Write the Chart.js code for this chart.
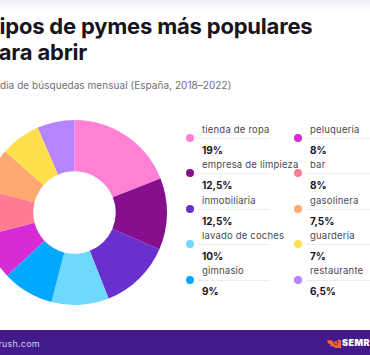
<!DOCTYPE html>
<html>
<head>
<meta charset="utf-8">
<script src="https://cdn.jsdelivr.net/npm/chart.js@4.4.1/dist/chart.umd.min.js"></script>
<style>
  html, body { margin:0; padding:0; }
  body { width:370px; height:355px; position:relative; overflow:hidden; background:#fff; font-family:Inter, "Noto Sans", sans-serif; }
  #topband { position:absolute; left:0; top:0; width:370px; height:12px; background:linear-gradient(#eeeef3, #ffffff); }
  #title { position:absolute; left:-15px; top:13px; font-size:22px; font-weight:700; line-height:26px; color:#17141f; white-space:nowrap; letter-spacing:-0.2px; }
  #subtitle { position:absolute; left:-15px; top:79px; font-size:10px; line-height:12px; color:#6e6e78; white-space:nowrap; letter-spacing:0.05px; }
  #chartBox { position:absolute; left:-18px; top:120px; width:185px; height:185px; }
  .item { position:absolute; width:100px; height:35px; }
  .dot { position:absolute; left:-4px; top:-4px; width:8px; height:8px; border-radius:50%; }
  .lab { position:absolute; left:12px; top:-13.2px; font-size:9.5px; line-height:10px; color:#4a4a55; white-space:nowrap; letter-spacing:0.2px; }
  .rule { position:absolute; left:8px; top:0px; width:72px; height:1px; background:#ebebf0; }
  .val { position:absolute; left:12px; top:6.9px; font-size:10px; line-height:10px; font-weight:700; color:#17141f; white-space:nowrap; letter-spacing:0px; }
  #footer { position:absolute; left:0; top:330px; width:370px; height:25px; background:#421a8c; }
  #furl { position:absolute; left:-20px; top:8px; font-size:9px; color:#d6cdee; letter-spacing:0.2px; }
  #logo { position:absolute; left:327px; top:7px; }
  #brand { position:absolute; left:342px; top:8px; font-size:9px; line-height:10px; font-weight:900; color:#ffffff; letter-spacing:0.5px; }
</style>
</head>
<body>
<div id="topband"></div>
<div id="title">Tipos de pymes más populares<br>Para abrir</div>
<div id="subtitle">Media de búsquedas mensual (España, 2018–2022)</div>
<div id="chartBox"><canvas id="c" width="185" height="185"></canvas></div>
<div id="legend"></div>
<div id="footer">
  <div id="furl">semrush.com</div>
  <svg id="logo" width="14" height="11" viewBox="0 0 14 11">
    <path d="M0 3.5 L5 3 L4.5 4.5 L8 4.5 A5 5 0 1 1 7.5 10 L2.5 8.5 L4 7 L1 6.5 Z" fill="#ff642d"/>
    <circle cx="9" cy="5.5" r="2.4" fill="#421a8c"/>
    <circle cx="9" cy="5.5" r="1.5" fill="#ff642d"/>
  </svg>
  <div id="brand">SEMRUSH</div>
</div>
<script>
const categories = ["tienda de ropa","empresa de limpieza","inmobiliaria","lavado de coches","gimnasio","peluquería","bar","gasolinera","guardería","restaurante"];
const shares = [19, 12.5, 12.5, 10, 9, 8, 8, 7.5, 7, 6.5];
const shareLabels = ["19%","12,5%","12,5%","10%","9%","8%","8%","7,5%","7%","6,5%"];
const colors = ["#ff80d4","#850f8c","#6a2fcf","#6fd8ff","#00a9ff","#d72bd5","#ff7b8f","#ffa86f","#ffe04c","#b584ff"];

new Chart(document.getElementById('c'), {
  type: 'doughnut',
  data: { labels: categories, datasets: [{ data: shares, backgroundColor: colors, borderWidth: 0 }] },
  options: {
    responsive: false, animation: false, cutout: '44.6%',
    layout: { padding: 0 },
    plugins: { legend: { display: false }, tooltip: { enabled: false } }
  }
});

const legend = document.getElementById('legend');
categories.forEach((cat, i) => {
  const col = Math.floor(i / 5), row = i % 5;
  const d = document.createElement('div');
  d.className = 'item';
  d.style.left = (190 + col * 108) + 'px';
  d.style.top = (138 + row * 35.4) + 'px';
  d.innerHTML = '<div class="rule"></div>' +
    '<div class="dot" style="background:' + colors[i] + '"></div>' +
    '<div class="lab">' + cat + '</div>' +
    '<div class="val">' + shareLabels[i] + '</div>';
  legend.appendChild(d);
});
</script>
</body>
</html>
